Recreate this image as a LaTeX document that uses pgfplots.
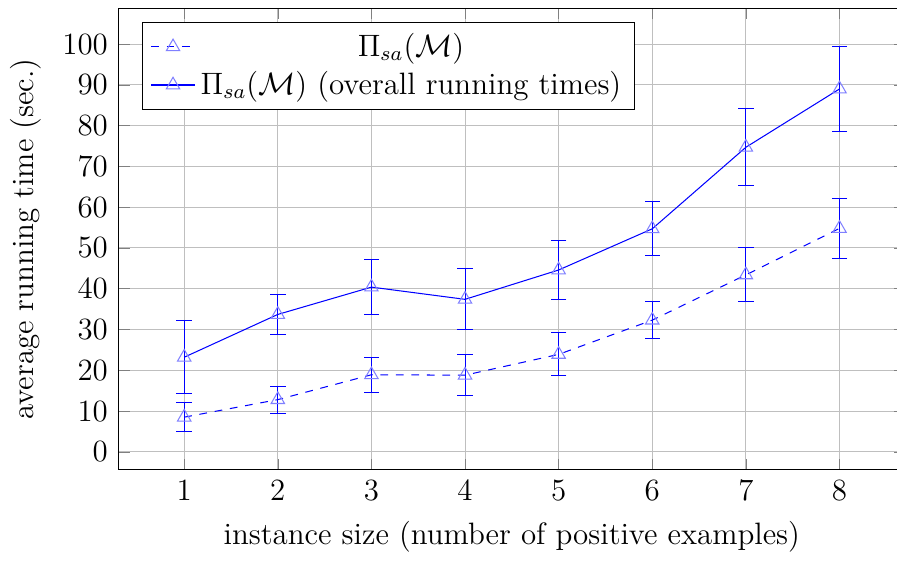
\documentclass[border=0pt,12pt]{standalone}
\usepackage{pgfplots}
\pgfplotsset{compat=1.18}
\begin{document}
\begin{tikzpicture}
\begin{axis}[
  name=ax,
  scale only axis,
  width=305pt, height=179pt,
  xmin=0.3, xmax=8.7,
  ymin=-4.4, ymax=108.8,
  xtick={1,2,3,4,5,6,7,8},
  ytick={0,10,20,30,40,50,60,70,80,90,100},
  grid=major,
  xlabel={instance size (number of positive examples)},
  ylabel={average running time (sec.)},
  mark size=3pt,
  unbounded coords=jump,
  legend cell align=center,
  legend style={at={(0.03,0.97)}, anchor=north west},
]
% error bars (lower and upper ends), dashed series
\addplot[forget plot, blue, solid, mark=-, mark size=3pt, mark options={blue}]
  coordinates {
  (1,5.0) (1,12.0) (1,nan)
  (2,9.5) (2,16.1) (2,nan)
  (3,14.6) (3,23.2) (3,nan)
  (4,13.7) (4,23.9) (4,nan)
  (5,18.6) (5,29.2) (5,nan)
  (6,27.7) (6,36.9) (6,nan)
  (7,36.8) (7,50.0) (7,nan)
  (8,47.4) (8,62.2)
};
% error bars (lower and upper ends), solid series
\addplot[forget plot, blue, solid, mark=-, mark size=3pt, mark options={blue}]
  coordinates {
  (1,14.2) (1,32.2) (1,nan)
  (2,28.8) (2,38.6) (2,nan)
  (3,33.6) (3,47.2) (3,nan)
  (4,29.9) (4,44.9) (4,nan)
  (5,37.45) (5,51.75) (5,nan)
  (6,48.1) (6,61.3) (6,nan)
  (7,65.3) (7,84.1) (7,nan)
  (8,78.55) (8,99.45)
};
\addplot[blue, dashed, mark=triangle, mark options={solid, blue!50}]
  coordinates {
  (1,8.5) (2,12.8) (3,18.9) (4,18.8) (5,23.9) (6,32.3) (7,43.4) (8,54.8)
};
\addlegendentry{$\Pi_{sa}(\mathcal{M})$}
\addplot[blue, mark=triangle, mark options={solid, blue!50}]
  coordinates {
  (1,23.2) (2,33.7) (3,40.4) (4,37.4) (5,44.6) (6,54.7) (7,74.7) (8,89.0)
};
\addlegendentry{$\Pi_{sa}(\mathcal{M})$ (overall running times)}
\end{axis}
\coordinate (bl) at (current bounding box.south west);
\pgfresetboundingbox
\useasboundingbox (bl) rectangle ([xshift=-3.1pt,yshift=3.2pt]ax.north east);
\end{tikzpicture}
\end{document}
